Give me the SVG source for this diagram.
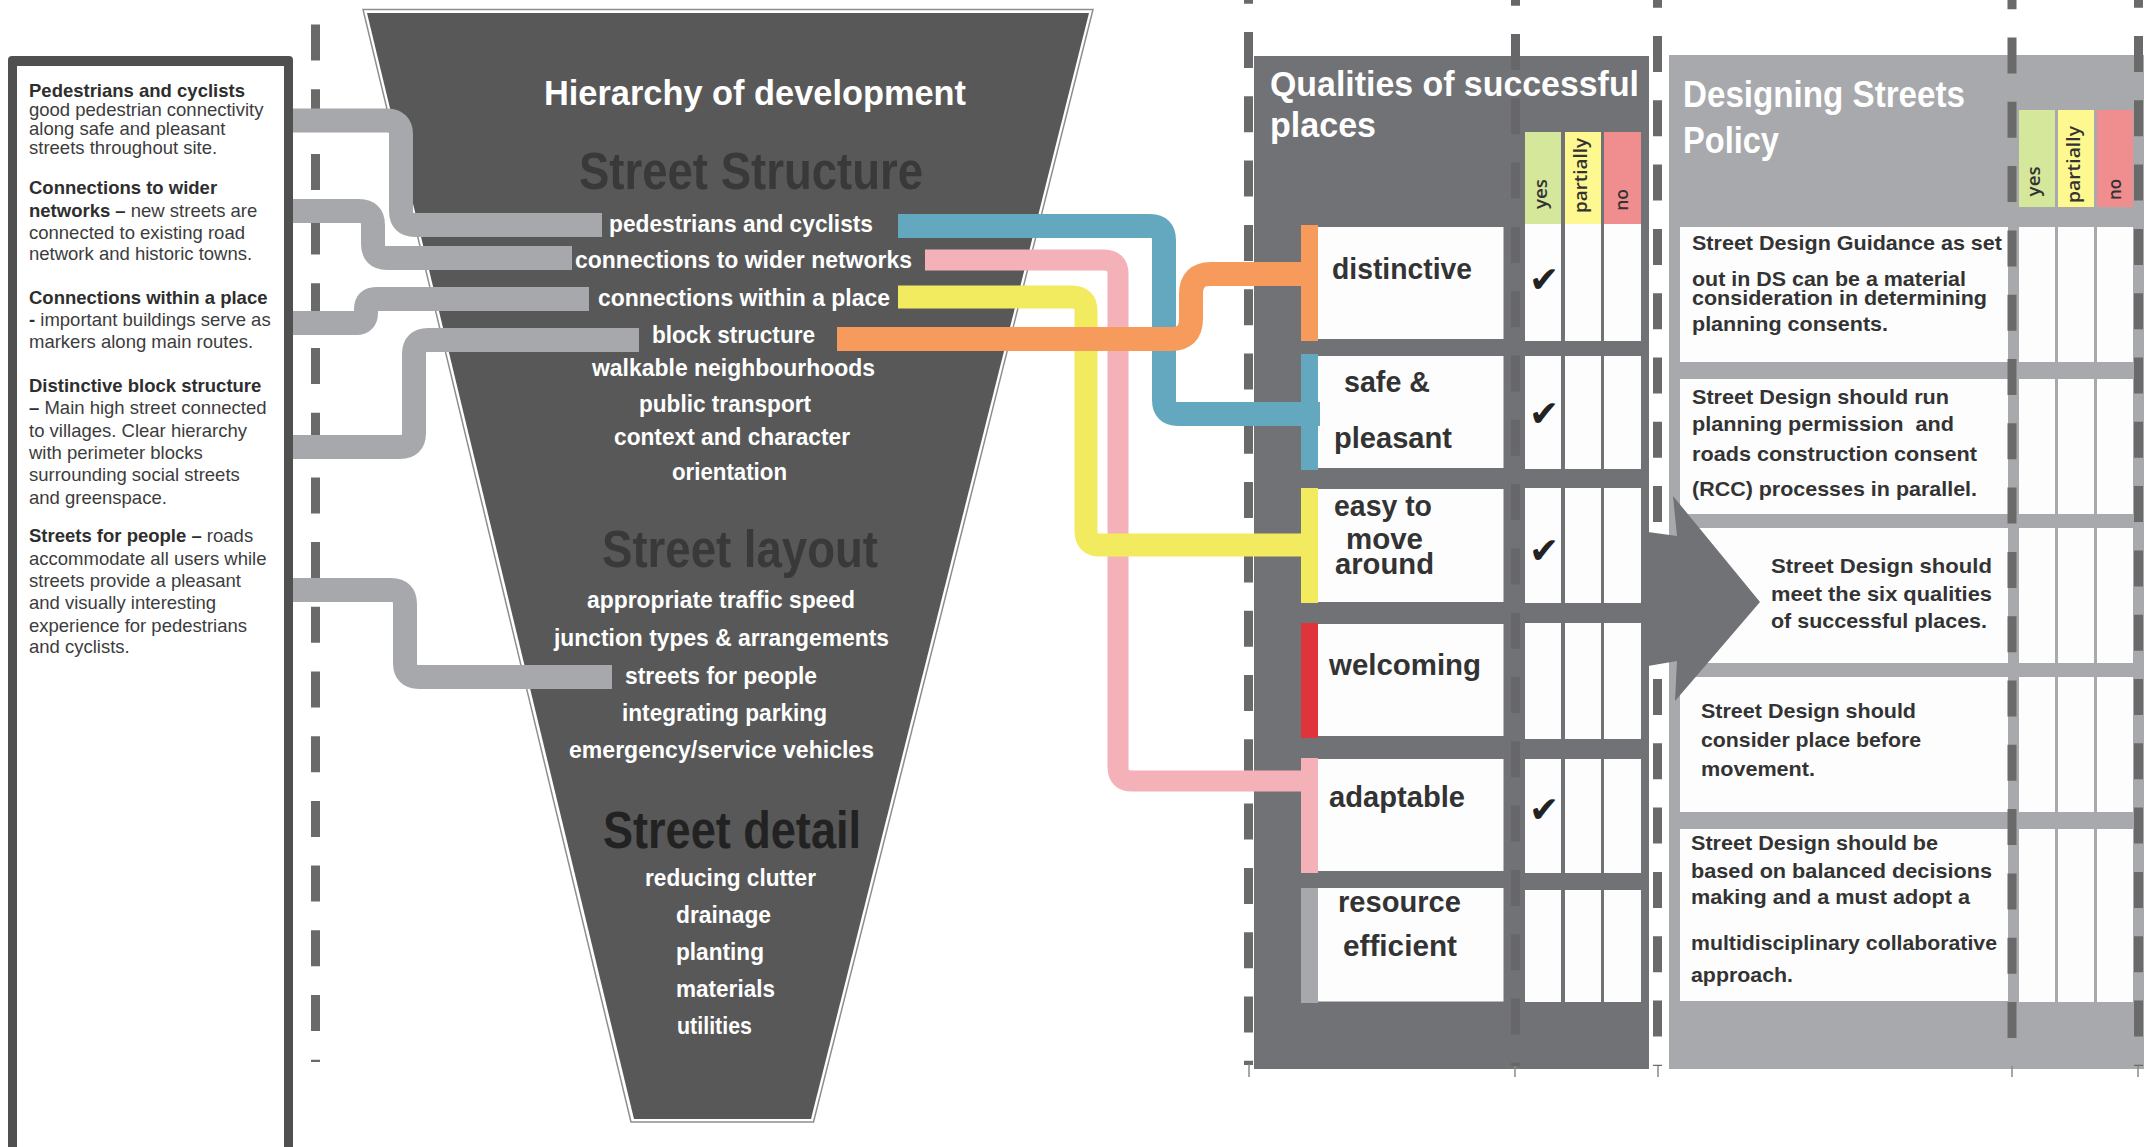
<svg xmlns="http://www.w3.org/2000/svg" width="2145" height="1147" viewBox="0 0 2145 1147">
  <style>
    .sans { font-family: "Liberation Sans", Arial, Helvetica, sans-serif; }
    .note { font-family: "Liberation Sans", Arial, sans-serif; font-size: 18.5px; fill: #3c3c3c; }
    .note .b { font-weight: bold; fill: #2e2e2e; }
    .item { font-family: "Liberation Sans", Arial, sans-serif; font-size: 24px; font-weight: bold; fill: #ffffff; }
    .level { font-family: "Liberation Sans", Arial, sans-serif; font-size: 51px; font-weight: bold; }
    .title { font-family: "Liberation Sans", Arial, sans-serif; font-weight: bold; fill: #ffffff; }
    .qual { font-family: "Liberation Sans", Arial, sans-serif; font-size: 29px; font-weight: bold; fill: #333333; }
    .pol { font-family: "Liberation Sans", Arial, sans-serif; font-size: 21px; font-weight: bold; fill: #333333; white-space: pre; }
    .head { font-family: "Open Sans", "Liberation Sans", sans-serif; font-size: 18px; font-weight: 600; fill: #333333; }
    .tick { font-family: "DejaVu Sans", sans-serif; font-size: 36px; fill: #222222; text-anchor: middle; }
    .dash { fill: none; stroke: #6a6a6a; stroke-width: 9; stroke-dasharray: 36 28.3; }
    .mark { stroke: #8a8a8a; stroke-width: 1.5; }
    .card { fill: #fdfdfd; }
    .road { fill: none; stroke-linecap: butt; stroke-linejoin: round; }
    .grey { stroke: #a7a8ab; stroke-width: 24; }
    .yes { fill: #d5e79b; }
    .part { fill: #fef890; }
    .no { fill: #f08d8f; }
  </style>

  <rect width="2145" height="1147" fill="#ffffff"/>

  <!-- guide line beside the notes column -->
  <line class="dash" x1="315.5" y1="24.5" x2="315.5" y2="1062" style="stroke-dasharray:36 28.7"/>

  <!-- notes column -->
  <g id="context-notes">
    <rect x="8" y="56" width="285" height="1100" rx="4" fill="#505050"/>
    <rect x="17" y="66" width="267" height="1090" fill="#ffffff"/>
    <text class="note">
      <tspan class="b" x="29" y="97">Pedestrians and cyclists</tspan>
      <tspan x="29" y="116">good pedestrian connectivity</tspan>
      <tspan x="29" y="135">along safe and pleasant</tspan>
      <tspan x="29" y="154">streets throughout site.</tspan>
      <tspan class="b" x="29" y="194">Connections to wider</tspan>
      <tspan class="b" x="29" y="216.5">networks –</tspan><tspan> new streets are</tspan>
      <tspan x="29" y="239">connected to existing road</tspan>
      <tspan x="29" y="260">network and historic towns.</tspan>
      <tspan class="b" x="29" y="304">Connections within a place</tspan>
      <tspan class="b" x="29" y="326">-</tspan><tspan> important buildings serve as</tspan>
      <tspan x="29" y="348">markers along main routes.</tspan>
      <tspan class="b" x="29" y="392">Distinctive block structure</tspan>
      <tspan class="b" x="29" y="414">–</tspan><tspan> Main high street connected</tspan>
      <tspan x="29" y="437">to villages. Clear hierarchy</tspan>
      <tspan x="29" y="459">with perimeter blocks</tspan>
      <tspan x="29" y="481">surrounding social streets</tspan>
      <tspan x="29" y="504">and greenspace.</tspan>
      <tspan class="b" x="29" y="542">Streets for people –</tspan><tspan> roads</tspan>
      <tspan x="29" y="565">accommodate all users while</tspan>
      <tspan x="29" y="587">streets provide a pleasant</tspan>
      <tspan x="29" y="609">and visually interesting</tspan>
      <tspan x="29" y="632">experience for pedestrians</tspan>
      <tspan x="29" y="653">and cyclists.</tspan>
    </text>
  </g>

  <!-- hierarchy funnel -->
  <g id="hierarchy">
    <polygon points="363,9.5 1093,9.5 813.5,1122 631,1122" fill="#ffffff" stroke="#8e8e8e" stroke-width="1.5"/>
    <polygon points="367,13 1089,13 811,1119 634,1119" fill="#585858"/>
    <text class="title" x="544" y="105" font-size="35" textLength="422" lengthAdjust="spacingAndGlyphs">Hierarchy of development</text>

    <text class="level" x="579" y="189" fill="#393939" textLength="344" lengthAdjust="spacingAndGlyphs">Street Structure</text>
    <text class="item" x="609" y="232" textLength="264" lengthAdjust="spacingAndGlyphs">pedestrians and cyclists</text>
    <text class="item" x="575" y="268" textLength="337" lengthAdjust="spacingAndGlyphs">connections to wider networks</text>
    <text class="item" x="598" y="306" textLength="292" lengthAdjust="spacingAndGlyphs">connections within a place</text>
    <text class="item" x="652" y="343" textLength="163" lengthAdjust="spacingAndGlyphs">block structure</text>
    <text class="item" x="592" y="376" textLength="283" lengthAdjust="spacingAndGlyphs">walkable neighbourhoods</text>
    <text class="item" x="639" y="412" textLength="172" lengthAdjust="spacingAndGlyphs">public transport</text>
    <text class="item" x="614" y="445" textLength="236" lengthAdjust="spacingAndGlyphs">context and character</text>
    <text class="item" x="672" y="480" textLength="115" lengthAdjust="spacingAndGlyphs">orientation</text>

    <text class="level" x="602" y="567" fill="#393939" textLength="276" lengthAdjust="spacingAndGlyphs">Street layout</text>
    <text class="item" x="587" y="608" textLength="268" lengthAdjust="spacingAndGlyphs">appropriate traffic speed</text>
    <text class="item" x="554" y="646" textLength="335" lengthAdjust="spacingAndGlyphs">junction types &amp; arrangements</text>
    <text class="item" x="625" y="684" textLength="192" lengthAdjust="spacingAndGlyphs">streets for people</text>
    <text class="item" x="622" y="721" textLength="205" lengthAdjust="spacingAndGlyphs">integrating parking</text>
    <text class="item" x="569" y="758" textLength="305" lengthAdjust="spacingAndGlyphs">emergency/service vehicles</text>

    <text class="level" x="603" y="848" fill="#222222" textLength="258" lengthAdjust="spacingAndGlyphs">Street detail</text>
    <text class="item" x="645" y="886" textLength="171" lengthAdjust="spacingAndGlyphs">reducing clutter</text>
    <text class="item" x="676" y="923" textLength="95" lengthAdjust="spacingAndGlyphs">drainage</text>
    <text class="item" x="676" y="960" textLength="88" lengthAdjust="spacingAndGlyphs">planting</text>
    <text class="item" x="676" y="997" textLength="99" lengthAdjust="spacingAndGlyphs">materials</text>
    <text class="item" x="677" y="1034" textLength="75" lengthAdjust="spacingAndGlyphs">utilities</text>
  </g>

  <!-- qualities of successful places -->
  <g id="qualities">
    <rect x="1254" y="56" width="395" height="1013" fill="#717275"/>
    <text class="title" font-size="35">
      <tspan x="1270" y="96" textLength="369" lengthAdjust="spacingAndGlyphs">Qualities of successful</tspan>
      <tspan x="1270" y="137" textLength="106" lengthAdjust="spacingAndGlyphs">places</tspan>
    </text>
    <g id="qualities-head">
      <rect class="yes" x="1525" y="132" width="36" height="92"/>
      <rect class="part" x="1565" y="132" width="36" height="92"/>
      <rect class="no" x="1604" y="132" width="37" height="92"/>
      <text class="head" transform="translate(1547,209) rotate(-90)" textLength="30" lengthAdjust="spacingAndGlyphs">yes</text>
      <text class="head" transform="translate(1587,213) rotate(-90)" textLength="75" lengthAdjust="spacingAndGlyphs">partially</text>
      <text class="head" transform="translate(1628,210.7) rotate(-90)" textLength="21.6" lengthAdjust="spacingAndGlyphs">no</text>
    </g>

    <g id="q-distinctive">
      <rect class="card" x="1318" y="227" width="185.5" height="112"/>
      <rect x="1301" y="225" width="17" height="116" fill="#f69b5b"/>
      <rect class="card" x="1525" y="224" width="36" height="117"/>
      <rect class="card" x="1565" y="224" width="36" height="117"/>
      <rect class="card" x="1604" y="224" width="37" height="117"/>
      <text class="qual" x="1332" y="279" textLength="140" lengthAdjust="spacingAndGlyphs">distinctive</text>
      <text class="tick" x="1544" y="292">✔</text>
    </g>
    <g id="q-safe">
      <rect class="card" x="1318" y="356" width="185.5" height="112"/>
      <rect x="1301" y="354" width="17" height="116" fill="#64a8c0"/>
      <rect class="card" x="1525" y="356" width="36" height="113"/>
      <rect class="card" x="1565" y="356" width="36" height="113"/>
      <rect class="card" x="1604" y="356" width="37" height="113"/>
      <text class="qual" x="1344" y="392" textLength="86" lengthAdjust="spacingAndGlyphs">safe &amp;</text>
      <text class="qual" x="1334" y="448" textLength="118" lengthAdjust="spacingAndGlyphs">pleasant</text>
      <text class="tick" x="1544" y="426">✔</text>
    </g>
    <g id="q-easy">
      <rect class="card" x="1318" y="489" width="185.5" height="113"/>
      <rect x="1301" y="488" width="17" height="115" fill="#f2eb60"/>
      <rect class="card" x="1525" y="488" width="36" height="115"/>
      <rect class="card" x="1565" y="488" width="36" height="115"/>
      <rect class="card" x="1604" y="488" width="37" height="115"/>
      <text class="qual" x="1334" y="516" textLength="98" lengthAdjust="spacingAndGlyphs">easy to</text>
      <text class="qual" x="1346" y="549" textLength="77" lengthAdjust="spacingAndGlyphs">move</text>
      <text class="qual" x="1335" y="574" textLength="99" lengthAdjust="spacingAndGlyphs">around</text>
      <text class="tick" x="1544" y="563">✔</text>
    </g>
    <g id="q-welcoming">
      <rect class="card" x="1318" y="624" width="185.5" height="112"/>
      <rect x="1301" y="623" width="17" height="115" fill="#de343a"/>
      <rect class="card" x="1525" y="623" width="36" height="116"/>
      <rect class="card" x="1565" y="623" width="36" height="116"/>
      <rect class="card" x="1604" y="623" width="37" height="116"/>
      <text class="qual" x="1329" y="675" textLength="152" lengthAdjust="spacingAndGlyphs">welcoming</text>
    </g>
    <g id="q-adaptable">
      <rect class="card" x="1318" y="759" width="185.5" height="112"/>
      <rect x="1301" y="758" width="17" height="115" fill="#f4b2b8"/>
      <rect class="card" x="1525" y="759" width="36" height="114"/>
      <rect class="card" x="1565" y="759" width="36" height="114"/>
      <rect class="card" x="1604" y="759" width="37" height="114"/>
      <text class="qual" x="1329" y="807" textLength="136" lengthAdjust="spacingAndGlyphs">adaptable</text>
      <text class="tick" x="1544" y="822">✔</text>
    </g>
    <g id="q-resource">
      <rect class="card" x="1318" y="888" width="185.5" height="113.5"/>
      <rect x="1301" y="888" width="17" height="115" fill="#a7a8ab"/>
      <rect class="card" x="1525" y="890" width="36" height="112"/>
      <rect class="card" x="1565" y="890" width="36" height="112"/>
      <rect class="card" x="1604" y="890" width="37" height="112"/>
      <text class="qual" x="1338" y="912" textLength="123" lengthAdjust="spacingAndGlyphs">resource</text>
      <text class="qual" x="1343" y="956" textLength="114" lengthAdjust="spacingAndGlyphs">efficient</text>
    </g>
  </g>

  <!-- designing streets policy -->
  <g id="policy">
    <rect x="1669" y="55" width="475" height="1014" fill="#a8a9ac"/>
    <text class="title" font-size="36">
      <tspan x="1683" y="107" textLength="282" lengthAdjust="spacingAndGlyphs">Designing Streets</tspan>
      <tspan x="1683" y="153" textLength="96" lengthAdjust="spacingAndGlyphs">Policy</tspan>
    </text>
    <g id="policy-head">
      <rect class="yes" x="2019" y="110" width="36" height="97"/>
      <rect class="part" x="2058" y="110" width="36" height="97"/>
      <rect class="no" x="2097" y="110" width="36" height="97"/>
      <text class="head" transform="translate(2040,196.4) rotate(-90)" textLength="30" lengthAdjust="spacingAndGlyphs">yes</text>
      <text class="head" transform="translate(2080,203) rotate(-90)" textLength="77" lengthAdjust="spacingAndGlyphs">partially</text>
      <text class="head" transform="translate(2121,200) rotate(-90)" textLength="21" lengthAdjust="spacingAndGlyphs">no</text>
    </g>

    <g id="p-guidance">
      <rect class="card" x="1680" y="227" width="328" height="135"/>
      <rect class="card" x="2019" y="227" width="36" height="135"/>
      <rect class="card" x="2058" y="227" width="36" height="135"/>
      <rect class="card" x="2097" y="227" width="36" height="135"/>
      <text class="pol" x="1692" y="250" textLength="310" lengthAdjust="spacingAndGlyphs">Street Design Guidance as set</text>
      <text class="pol" x="1692" y="286" textLength="274" lengthAdjust="spacingAndGlyphs">out in DS can be a material</text>
      <text class="pol" x="1692" y="305" textLength="295" lengthAdjust="spacingAndGlyphs">consideration in determining</text>
      <text class="pol" x="1692" y="331" textLength="196" lengthAdjust="spacingAndGlyphs">planning consents.</text>
    </g>
    <g id="p-parallel">
      <rect class="card" x="1680" y="379" width="328" height="135"/>
      <rect class="card" x="2019" y="379" width="36" height="135"/>
      <rect class="card" x="2058" y="379" width="36" height="135"/>
      <rect class="card" x="2097" y="379" width="36" height="135"/>
      <text class="pol" x="1692" y="404" textLength="257" lengthAdjust="spacingAndGlyphs">Street Design should run</text>
      <text class="pol" x="1692" y="431" textLength="262" lengthAdjust="spacingAndGlyphs">planning permission  and</text>
      <text class="pol" x="1692" y="461" textLength="285" lengthAdjust="spacingAndGlyphs">roads construction consent</text>
      <text class="pol" x="1692" y="496" textLength="285" lengthAdjust="spacingAndGlyphs">(RCC) processes in parallel.</text>
    </g>
    <g id="p-qualities">
      <rect class="card" x="1680" y="528" width="328" height="135"/>
      <rect class="card" x="2019" y="528" width="36" height="135"/>
      <rect class="card" x="2058" y="528" width="36" height="135"/>
      <rect class="card" x="2097" y="528" width="36" height="135"/>
      <text class="pol" x="1771" y="573" textLength="221" lengthAdjust="spacingAndGlyphs">Street Design should</text>
      <text class="pol" x="1771" y="601" textLength="221" lengthAdjust="spacingAndGlyphs">meet the six qualities</text>
      <text class="pol" x="1771" y="628" textLength="216" lengthAdjust="spacingAndGlyphs">of successful places.</text>
    </g>
    <g id="p-place">
      <rect class="card" x="1680" y="677" width="328" height="135"/>
      <rect class="card" x="2019" y="677" width="36" height="135"/>
      <rect class="card" x="2058" y="677" width="36" height="135"/>
      <rect class="card" x="2097" y="677" width="36" height="135"/>
      <text class="pol" x="1701" y="718" textLength="215" lengthAdjust="spacingAndGlyphs">Street Design should</text>
      <text class="pol" x="1701" y="747" textLength="220" lengthAdjust="spacingAndGlyphs">consider place before</text>
      <text class="pol" x="1701" y="776" textLength="114" lengthAdjust="spacingAndGlyphs">movement.</text>
    </g>
    <g id="p-balanced">
      <rect class="card" x="1680" y="829" width="328" height="172"/>
      <rect class="card" x="2019" y="829" width="36" height="173"/>
      <rect class="card" x="2058" y="829" width="36" height="173"/>
      <rect class="card" x="2097" y="829" width="36" height="173"/>
      <text class="pol" x="1691" y="850" textLength="247" lengthAdjust="spacingAndGlyphs">Street Design should be</text>
      <text class="pol" x="1691" y="878" textLength="301" lengthAdjust="spacingAndGlyphs">based on balanced decisions</text>
      <text class="pol" x="1691" y="904" textLength="279" lengthAdjust="spacingAndGlyphs">making and a must adopt a</text>
      <text class="pol" x="1691" y="950" textLength="306" lengthAdjust="spacingAndGlyphs">multidisciplinary collaborative</text>
      <text class="pol" x="1691" y="982" textLength="102" lengthAdjust="spacingAndGlyphs">approach.</text>
    </g>
  </g>

  <!-- column guide lines -->
  <g id="guides">
    <line class="dash" x1="1248.5" y1="-32.3" x2="1248.5" y2="1065"/>
    <line class="dash" x1="1515.5" y1="-30.3" x2="1515.5" y2="1066" style="stroke:#67676a"/>
    <line class="dash" x1="1657.5" y1="-28.3" x2="1657.5" y2="1066"/>
    <line class="dash" x1="2012" y1="-26.8" x2="2012" y2="1066"/>
    <line class="dash" x1="2138.5" y1="-28.3" x2="2138.5" y2="1066"/>
    <line class="mark" x1="1249" y1="1064" x2="1249" y2="1077"/>
    <line class="mark" x1="1515" y1="1066" x2="1515" y2="1077"/>
    <line class="mark" x1="1658" y1="1066" x2="1658" y2="1077"/>
    <line class="mark" x1="2012" y1="1066" x2="2012" y2="1077"/>
    <line class="mark" x1="2138" y1="1066" x2="2138" y2="1077"/>
  </g>

  <!-- arrow from the qualities panel into the policy panel -->
  <polygon id="policy-arrow" points="1648,532 1677,536 1673,496 1760,602 1675,701 1677,661 1648,666" fill="#717275"/>

  <g id="connectors">
    <!-- notes to hierarchy items -->
    <path class="road grey" d="M293,120.5 H387 Q401,120.5 401,134.5 V211 Q401,225 415,225 H602"/>
    <path class="road grey" d="M293,211 H359 Q373,211 373,225 V244 Q373,258 387,258 H572"/>
    <path class="road grey" d="M293,323 H356 Q366,323 366,313 V309 Q366,299 376,299 H589"/>
    <path class="road grey" d="M293,447 H400 Q414,447 414,433 V354 Q414,340 428,340 H639"/>
    <path class="road grey" d="M293,590 H391 Q405,590 405,604 V663 Q405,677 419,677 H612"/>
    <!-- hierarchy items to qualities -->
    <path class="road" stroke="#f4b2b8" stroke-width="21" d="M925,260 H1104 Q1118,260 1118,274 V767 Q1118,781 1132,781 H1318"/>
    <path class="road" stroke="#64a8c0" stroke-width="24" d="M898,226 H1150 Q1164,226 1164,240 V400 Q1164,414 1178,414 H1320"/>
    <path class="road" stroke="#f2eb60" stroke-width="23" d="M898,297 H1072 Q1086,297 1086,311 V531 Q1086,545 1100,545 H1301"/>
    <path class="road" stroke="#f69b5b" stroke-width="24" d="M837,339 H1171 Q1191,339 1191,319 V294 Q1191,274 1211,274 H1301"/>
  </g>
</svg>
